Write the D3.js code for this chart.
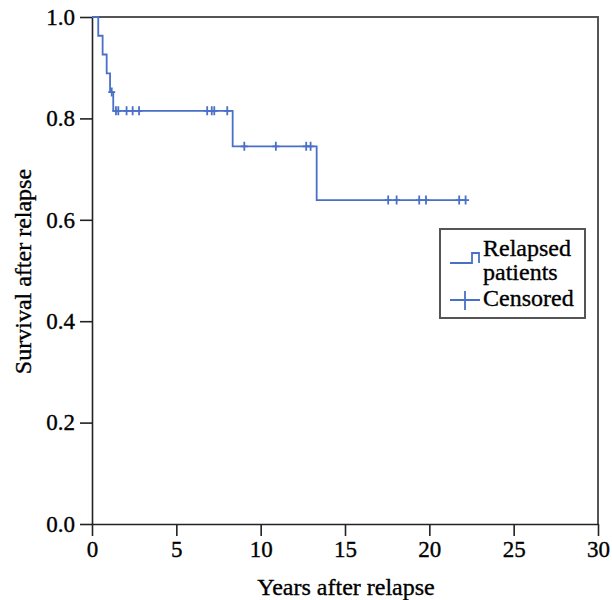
<!DOCTYPE html>
<meta charset="utf-8">
<style>
  body { margin: 0; background: #fff; }
  text { font-family: "Liberation Serif", "Times New Roman", serif; fill: #000; stroke: #000; stroke-width: 0.35px; }
</style>
<script src="https://d3js.org/d3.v7.min.js"></script>
<div id="chart"></div>
<script>
// step drops of the Kaplan-Meier curve (years, survival after the drop)
var stepTimes = [0, 0.37, 0.63, 0.87, 1.07, 1.26, 8.34, 13.32];
var stepSurv  = [1.0, 0.963, 0.926, 0.889, 0.852, 0.815, 0.745, 0.639];
// censored observations (years)
var censorTimes = [1.17, 1.42, 1.56, 2.05, 2.41, 2.79, 6.83, 7.10, 7.25, 8.02,
                   9.03, 10.9, 12.7, 12.96, 17.56, 18.06, 19.40, 19.80, 21.77, 22.15];
var xTicks = [0, 5, 10, 15, 20, 25, 30];
var yTicks = [0, 0.2, 0.4, 0.6, 0.8, 1.0];

var margin = {top: 17, right: 14, bottom: 76, left: 92},
    width = 612 - margin.left - margin.right,
    height = 600 - margin.top - margin.bottom;

var svg = d3.select("#chart").append("svg")
    .attr("width", 612).attr("height", 600)
  .append("g")
    .attr("transform", "translate(" + margin.left + "," + margin.top + ")");

var x = d3.scaleLinear().domain([0, 30]).range([0, width]);
var y = d3.scaleLinear().domain([0, 1]).range([height, 0]);

// frame top / right
svg.append("path")
    .attr("d", "M0,0H" + width + "V" + height)
    .attr("fill", "none").attr("stroke", "#555").attr("stroke-width", 2);

var xAxis = svg.append("g")
    .attr("transform", "translate(0," + height + ")")
    .call(d3.axisBottom(x).tickValues(xTicks).tickSize(12).tickSizeOuter(0).tickPadding(5));
var yAxis = svg.append("g")
    .call(d3.axisLeft(y).tickValues(yTicks).tickFormat(d3.format(".1f")).tickSize(12).tickSizeOuter(0).tickPadding(5));

[xAxis, yAxis].forEach(function(a) {
  a.select(".domain").attr("stroke", "#222").attr("stroke-width", 1.6);
  a.selectAll(".tick line").attr("stroke", "#222").attr("stroke-width", 1.6);
  a.selectAll("text").style("font-family", "Liberation Serif").style("font-size", "23px").attr("fill", "#000");
});

// curve
var pts = [];
stepTimes.forEach(function(t, i) { pts.push([t, stepSurv[i]]); });
pts.push([censorTimes[censorTimes.length - 1], stepSurv[stepSurv.length - 1]]);
var line = d3.line().x(function(d) { return x(d[0]); }).y(function(d) { return y(d[1]); })
    .curve(d3.curveStepAfter);
var blue = "#4a6fc8";
svg.append("path").datum(pts)
    .attr("d", line).attr("fill", "none").attr("stroke", blue).attr("stroke-width", 1.8);

function survAt(t) {
  var s = 1;
  stepTimes.forEach(function(st, i) { if (st <= t) s = stepSurv[i]; });
  return s;
}
svg.selectAll(".cens").data(censorTimes).enter().append("path")
    .attr("d", function(t) {
      var cx = x(t), cy = y(survAt(t));
      return "M" + (cx - 3.5) + "," + cy + "H" + (cx + 3.5) + "M" + cx + "," + (cy - 4.5) + "V" + (cy + 4.5);
    })
    .attr("stroke", blue).attr("stroke-width", 1.8).attr("fill", "none");

// axis titles
svg.append("text")
    .attr("x", width / 2 + 1).attr("y", height + 71)
    .attr("text-anchor", "middle").style("font-size", "24px")
    .text("Years after relapse");
svg.append("text")
    .attr("transform", "translate(" + (-61) + "," + (height / 2 + 1) + ") rotate(-90)")
    .attr("text-anchor", "middle").style("font-size", "24px")
    .text("Survival after relapse");

// legend
var lg = svg.append("g").attr("transform", "translate(" + (440 - margin.left) + "," + (229 - margin.top) + ")");
lg.append("rect").attr("width", 145).attr("height", 89)
    .attr("fill", "#fff").attr("stroke", "#555").attr("stroke-width", 2);
lg.append("path").attr("d", "M10,34H32V24H39V34")
    .attr("fill", "none").attr("stroke", blue).attr("stroke-width", 1.8);
lg.append("path").attr("d", "M10,71H40M25,62V81")
    .attr("fill", "none").attr("stroke", blue).attr("stroke-width", 1.8);
lg.append("text").attr("x", 43).attr("y", 27).style("font-size", "24px").text("Relapsed");
lg.append("text").attr("x", 43).attr("y", 51).style("font-size", "24px").text("patients");
lg.append("text").attr("x", 43).attr("y", 77).style("font-size", "24px").text("Censored");
</script>
